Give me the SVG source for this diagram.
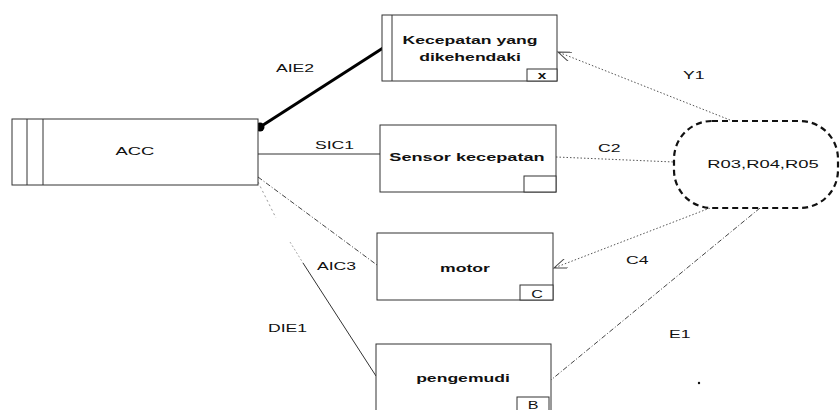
<svg xmlns="http://www.w3.org/2000/svg" width="840" height="410" viewBox="0 0 840 410">
<defs>
<style>
.box{fill:#fff;stroke:#333;stroke-width:1}
.t{font-family:"Liberation Sans",Arial,sans-serif;font-size:11px;font-weight:bold;fill:#111;text-anchor:middle}
.r{font-family:"Liberation Sans",Arial,sans-serif;font-size:11.5px;fill:#111;text-anchor:middle}
.lbl{font-family:"Liberation Sans",Arial,sans-serif;font-size:11px;fill:#111}
.dot{stroke:#555;stroke-width:1;fill:none;stroke-dasharray:1.5 2}
.dd{stroke:#444;stroke-width:1;fill:none;stroke-dasharray:5 2 1 2}
</style>
<marker id="arr" viewBox="0 0 14 10" refX="13" refY="5" markerWidth="14" markerHeight="10" orient="auto" markerUnits="userSpaceOnUse">
<path d="M0,0 L13,5 L0,10" fill="none" stroke="#444" stroke-width="1"/>
</marker>
</defs>
<rect width="840" height="410" fill="#fff"/>
<g id="connectors">
<line x1="260" y1="127" x2="383" y2="48" stroke="#000" stroke-width="3"/>
<circle cx="260" cy="127" r="4.5" fill="#000"/>
<line x1="258" y1="154" x2="380" y2="154" stroke="#333" stroke-width="1"/>
<line x1="556" y1="157" x2="674" y2="162" class="dot"/>
<line x1="730" y1="120" x2="558" y2="52" class="dot" marker-end="url(#arr)"/>
<line x1="710" y1="208" x2="554" y2="268" class="dot" marker-end="url(#arr)"/>
<line x1="760" y1="208" x2="551" y2="380" class="dd"/>
<line x1="258" y1="177" x2="377" y2="265" class="dd"/>
<line x1="258" y1="182" x2="276" y2="218" stroke="#999" stroke-width="1" stroke-dasharray="2 3"/>
<line x1="290" y1="242" x2="303" y2="263" stroke="#aaa" stroke-width="1" stroke-dasharray="2 2"/>
<line x1="303" y1="263" x2="376" y2="376" stroke="#333" stroke-width="1"/>
<text class="lbl" transform="translate(276,72) scale(1.6,1)">AIE2</text>
<text class="lbl" transform="translate(315,149) scale(1.6,1)">SIC1</text>
<text class="lbl" transform="translate(598,152) scale(1.6,1)">C2</text>
<text class="lbl" transform="translate(683,79) scale(1.6,1)">Y1</text>
<text class="lbl" transform="translate(626,264) scale(1.6,1)">C4</text>
<text class="lbl" transform="translate(669,338) scale(1.6,1)">E1</text>
<text class="lbl" transform="translate(317,270) scale(1.6,1)">AIC3</text>
<text class="lbl" transform="translate(268,332) scale(1.6,1)">DIE1</text>
</g>
<g id="acc">
<rect class="box" x="12" y="119" width="246" height="66"/>
<line x1="27" y1="119" x2="27" y2="185" stroke="#333"/>
<line x1="43" y1="119" x2="43" y2="185" stroke="#333"/>
<text class="r" transform="translate(135,155) scale(1.6,1)">ACC</text>
</g>
<g id="kecepatan">
<rect class="box" x="382" y="15" width="175" height="66"/>
<line x1="392" y1="15" x2="392" y2="81" stroke="#333"/>
<rect class="box" x="527" y="69" width="30" height="12"/>
<text class="t" transform="translate(542,79) scale(1.4,1)" font-size="9">x</text>
<text class="t" transform="translate(470,44) scale(1.6,1)">Kecepatan yang</text>
<text class="t" transform="translate(470,61) scale(1.6,1)">dikehendaki</text>
</g>
<g id="sensor">
<rect class="box" x="380" y="125" width="176" height="67"/>
<rect class="box" x="524" y="176" width="32" height="16"/>
<text class="t" transform="translate(467,161) scale(1.65,1)">Sensor kecepatan</text>
</g>
<g id="motor">
<rect class="box" x="377" y="233" width="176" height="67"/>
<rect class="box" x="520" y="285" width="33" height="15"/>
<text class="r" transform="translate(537,298) scale(1.4,1)" font-size="11">C</text>
<text class="t" transform="translate(465,272) scale(1.6,1)">motor</text>
</g>
<g id="pengemudi">
<rect class="box" x="376" y="344" width="175" height="75"/>
<rect class="box" x="517" y="397" width="32" height="20"/>
<text class="r" transform="translate(533,408.5) scale(1.4,1)" font-size="10.5">B</text>
<text class="t" transform="translate(463,382) scale(1.6,1)">pengemudi</text>
</g>
<g id="r03">
<rect x="674" y="121" width="164" height="87" rx="38" ry="38" fill="#fff" stroke="#111" stroke-width="2.2" stroke-dasharray="6 4"/>
<text class="r" transform="translate(763,168) scale(1.6,1)" font-size="12">R03,R04,R05</text>
</g>
<circle cx="699" cy="383" r="1.2" fill="#111"/>
</svg>
